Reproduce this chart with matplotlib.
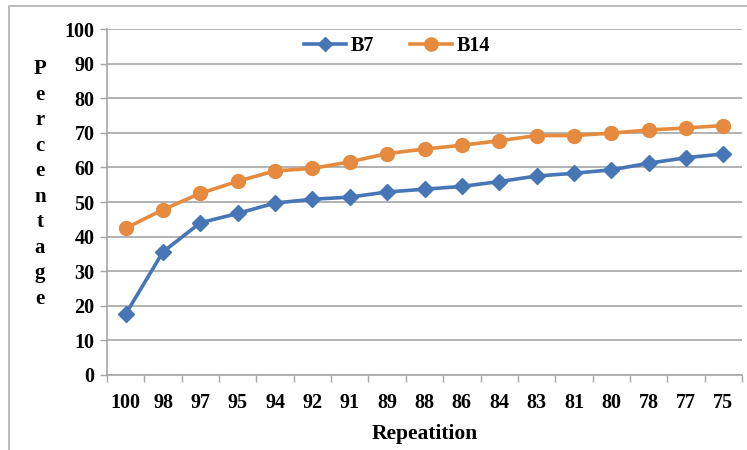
import matplotlib.pyplot as plt
from matplotlib.lines import Line2D
from matplotlib.patches import Rectangle

repetition = ["100", "98", "97", "95", "94", "92", "91", "89", "88",
              "86", "84", "83", "81", "80", "78", "77", "75"]
b7 = [17.6, 35.6, 44.0, 46.7, 49.7, 50.8, 51.4, 52.9, 53.7,
      54.5, 55.9, 57.5, 58.3, 59.3, 61.2, 62.8, 63.9]
b14 = [42.4, 47.8, 52.5, 56.0, 59.0, 59.7, 61.6, 64.0, 65.3,
       66.4, 67.7, 69.2, 69.2, 69.9, 70.8, 71.4, 72.1]

BLUE = "#4676b6"
ORANGE = "#e58a3e"
GRID = "#a6a6a6"

plt.rcParams["font.family"] = ["Liberation Serif", "DejaVu Serif"]
plt.rcParams["font.weight"] = "bold"

fig = plt.figure(figsize=(7.47, 4.5), dpi=100)
fig.patches.append(Rectangle((9 / 747, -0.1), 1.2, 444 / 450 + 0.1,
                             transform=fig.transFigure, fill=False,
                             edgecolor="#b0b0b0", linewidth=1.2))
ax = fig.add_axes([107 / 747, 75 / 450, 635 / 747, 346 / 450])

x = list(range(len(repetition)))
ax.plot(x, b7, color=BLUE, lw=2.6, marker="D", ms=8.5, label="B7", zorder=3)
ax.plot(x, b14, color=ORANGE, lw=2.6, marker="o", ms=10, label="B14", zorder=3)

ax.set_xlim(-0.5, len(repetition) - 0.5)
ax.set_ylim(0, 100)
ax.set_yticks(range(0, 101, 10))
ax.set_xticks(x)
ax.set_xticklabels(repetition)
ax.set_xticks([i - 0.5 for i in range(len(repetition) + 1)], minor=True)
ax.tick_params(axis="x", which="major", length=0, pad=13, labelsize=14.5)
ax.tick_params(axis="x", which="minor", length=5, color=GRID, width=1)
ax.tick_params(axis="y", length=5, color=GRID, width=1, labelsize=14.5, pad=4)
ax.grid(axis="y", color=GRID, lw=1.2)
ax.set_axisbelow(True)
for side in ("top", "right"):
    ax.spines[side].set_visible(False)
for side in ("left", "bottom"):
    ax.spines[side].set_color(GRID)
    ax.spines[side].set_linewidth(1.2)

ax.set_xlabel("Repeatition", fontsize=15.5, fontweight="bold", labelpad=8)
fig.text(40 / 747, 1 - 184 / 450, "\n".join("Percentage"), ha="center", va="center",
         fontsize=15, fontweight="bold", linespacing=1.37)

handles = [Line2D([], [], color=BLUE, lw=2.6, marker="D", ms=7.5),
           Line2D([], [], color=ORANGE, lw=2.6, marker="o", ms=9.5)]
ax.legend(handles, ["B7", "B14"], loc="center left",
          bbox_to_anchor=((304 - 107) / 635, (375 - 46) / 346),
          ncol=2, frameon=False, fontsize=14.5, handlelength=2.1,
          columnspacing=1.8, handletextpad=0.2, borderpad=0, borderaxespad=0)

fig.savefig("out.png", dpi=100)
